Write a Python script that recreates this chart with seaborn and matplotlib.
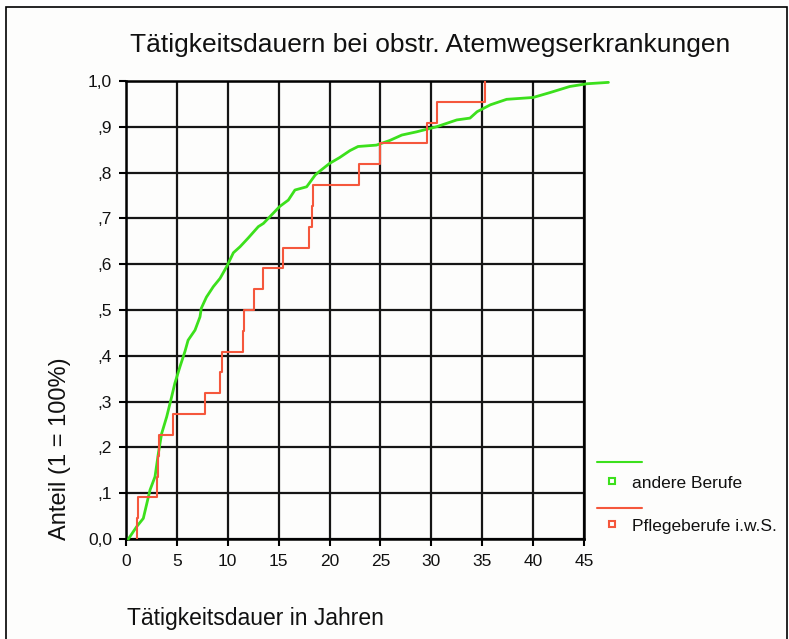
import numpy as np
import pandas as pd
import seaborn as sns
import matplotlib.pyplot as plt
from matplotlib.lines import Line2D
from matplotlib.patches import Rectangle

sns.set_theme(style="white")
plt.rcParams['font.family'] = ['Liberation Sans', 'DejaVu Sans']

# andere Berufe: points (years, share)
green_x = [0.23, 1.05, 1.7, 2.36, 2.85, 3.18, 3.5, 4.0, 4.48, 4.8, 5.3, 5.8, 6.1,
           6.78, 7.27, 7.4, 7.9, 8.58, 9.24, 9.9, 10.55, 11.2, 12.0, 13.0, 13.5,
           14.15, 15.1, 15.95, 16.6, 17.75, 18.6, 19.2, 20.0, 21.0, 22.0, 22.8,
           24.6, 25.9, 27.1, 28.55, 30.5, 32.5, 33.8, 34.5, 35.8, 37.4, 40.0,
           41.7, 43.6, 45.3, 47.4]
green_y = [0.0, 0.027, 0.045, 0.107, 0.136, 0.187, 0.23, 0.267, 0.31, 0.34, 0.376,
           0.41, 0.434, 0.456, 0.485, 0.504, 0.528, 0.551, 0.569, 0.595, 0.625,
           0.638, 0.657, 0.682, 0.689, 0.704, 0.726, 0.74, 0.762, 0.769, 0.795,
           0.806, 0.82, 0.833, 0.848, 0.857, 0.86, 0.87, 0.882, 0.889, 0.9, 0.915,
           0.919, 0.933, 0.948, 0.96, 0.964, 0.975, 0.988, 0.994, 0.997]

# Pflegeberufe i.w.S.: single durations (22 cases)
red_years = [1.05, 1.2, 3.0, 3.1, 3.27, 4.65, 7.75, 9.24, 9.47, 11.46, 11.6,
             12.55, 13.5, 15.45, 18.0, 18.3, 18.4, 22.85, 24.95, 29.55, 30.6, 35.3]

xticks = list(range(0, 50, 5))
yticks = [0.0, 0.1, 0.2, 0.3, 0.4, 0.5, 0.6, 0.7, 0.8, 0.9, 1.0]
ytick_labels = ['0,0', ',1', ',2', ',3', ',4', ',5', ',6', ',7', ',8', ',9', '1,0']

green = '#3ce01c'
red = '#f5573c'

fig = plt.figure(figsize=(7.89, 6.39), dpi=100)
fig.patch.set_facecolor('white')
fig.add_artist(Rectangle((6/789, -0.01), 781/789, 632/639 + 0.01,
                         transform=fig.transFigure, facecolor='#fdfdfc',
                         edgecolor='black', lw=1.2, zorder=-10))

ax = fig.add_axes([126/789, 100/639, 458/789, 458/639])
ax.patch.set_visible(False)

df_green = pd.DataFrame({'x': green_x, 'y': green_y})
sns.lineplot(data=df_green, x='x', y='y', ax=ax, color=green, lw=2.0,
             sort=False, estimator=None, clip_on=False, zorder=4)
sns.ecdfplot(x=red_years, ax=ax, color=red, lw=1.5, zorder=5)

ax.set_xlim(0, 45)
ax.set_ylim(0, 1.0)
ax.set_xticks(xticks)
ax.set_xticklabels([str(t) for t in xticks])
ax.set_yticks(yticks)
ax.set_yticklabels(ytick_labels)
ax.set_xlabel('')
ax.set_ylabel('')
ax.grid(True, color='#151515', lw=1.6)
ax.set_axisbelow(True)
for s in ax.spines.values():
    s.set_color('black')
    s.set_linewidth(1.8)
ax.tick_params(bottom=True, left=True, direction='out', length=5, width=1.5,
               color='black', labelsize=12.5, labelcolor='#111111')
ax.tick_params(axis='x', pad=6)
ax.tick_params(axis='y', pad=5)

fig.text(430/789, 1 - 45/639, 'Tätigkeitsdauern bei obstr. Atemwegserkrankungen',
         ha='center', va='center', fontsize=19, color='#111111')
fig.text(60/789, 1 - 540/639, 'Anteil (1 = 100%)', rotation=90,
         ha='center', va='bottom', fontsize=17, color='#111111')
fig.text(127/789, 1 - 618/639, 'Tätigkeitsdauer in Jahren',
         ha='left', va='center', fontsize=16.5, color='#111111')

# legend drawn by hand
for yl, ym, col, lab in [(462, 484, green, 'andere Berufe'),
                         (508, 527, red, 'Pflegeberufe i.w.S.')]:
    fig.add_artist(Line2D([597/789, 642/789], [1 - yl/639, 1 - yl/639],
                          transform=fig.transFigure, color=col, lw=1.5))
    fig.add_artist(Line2D([612/789], [1 - (ym - 3)/639], transform=fig.transFigure,
                          marker='s', ms=5, mfc='white', mec=col, mew=1.5, ls='none'))
    fig.text(632/789, 1 - ym/639, lab, ha='left', va='center', fontsize=12.5,
             color='#111111')

fig.savefig('out.png', dpi=100)
